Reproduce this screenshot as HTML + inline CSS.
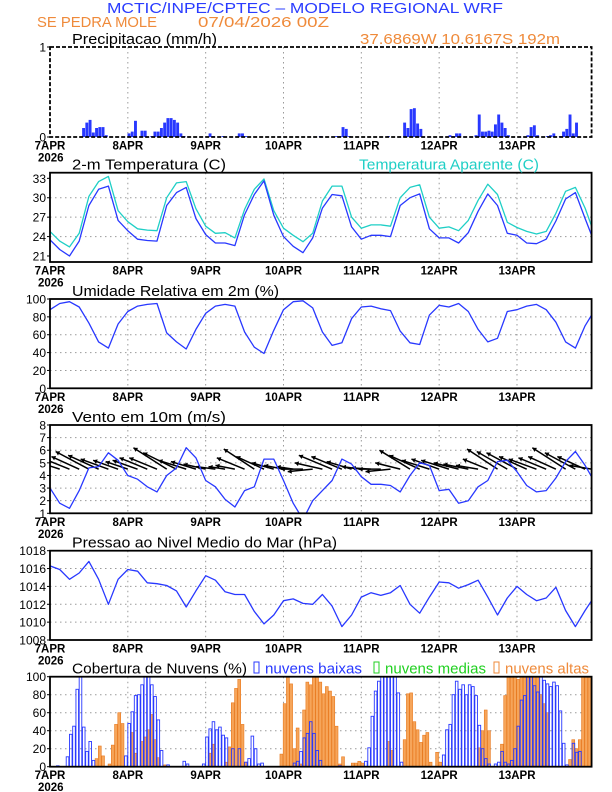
<!DOCTYPE html>
<html><head><meta charset="utf-8"><style>
html,body{margin:0;padding:0;background:#fff}
svg{display:block}
text{font-family:"Liberation Sans",sans-serif}
</style></head><body>
<svg id="chart" width="612" height="792" viewBox="0 0 612 792" xmlns="http://www.w3.org/2000/svg">
<text x="107" y="13" font-size="15" fill="#2a3cff" textLength="396" lengthAdjust="spacingAndGlyphs">MCTIC/INPE/CPTEC – MODELO REGIONAL WRF</text>
<text x="37" y="27" font-size="15" fill="#ef8a3a" textLength="120" lengthAdjust="spacingAndGlyphs">SE PEDRA MOLE</text>
<text x="198" y="27" font-size="15" fill="#ef8a3a" textLength="131" lengthAdjust="spacingAndGlyphs">07/04/2026 00Z</text>
<text x="360" y="44" font-size="15" fill="#ef8a3a" textLength="200" lengthAdjust="spacingAndGlyphs">37.6869W 10.6167S 192m</text>
<g id="layer"></g>
</svg>
<script>
// ---------- data ----------
const dayLabels = ["7APR","8APR","9APR","10APR","11APR","12APR","13APR"];
const hours3 = [0,3,6,9,12,15,18,21,24,27,30,33,36,39,42,45,48,51,54,57,60,63,66,69,72,75,78,81,84,87,90,93,96,99,102,105,108,111,114,117,120,123,126,129,132,135,138,141,144,147,150,153,156,159,162,165,167];
const precipHours = [10,11,12,13,14,15,16,17,24,25,26,28,29,31,32,33,34,35,36,37,38,39,40,41,49,50,53,58,59,60,83,88,89,90,91,92,104,109,110,111,112,113,114,123,124,125,126,131,132,133,134,135,136,137,138,139,140,141,147,148,149,150,153,154,155,157,158,159,160,161,162];
const precipVals = [0.10,0.16,0.19,0.05,0.10,0.11,0.11,0.02,0.04,0.06,0.18,0.07,0.07,0.01,0.06,0.06,0.10,0.16,0.21,0.21,0.19,0.16,0.04,0.01,0.04,0.01,0.01,0.04,0.04,0.01,0.01,0.01,0.01,0.11,0.09,0.01,0.01,0.16,0.10,0.31,0.32,0.15,0.09,0.02,0.01,0.04,0.04,0.02,0.25,0.06,0.06,0.07,0.06,0.14,0.25,0.16,0.10,0.02,0.02,0.11,0.13,0.02,0.01,0.02,0.04,0.01,0.06,0.09,0.25,0.04,0.16];
const temp2m = [23.5,22.0,21.0,23.3,28.8,31.3,31.8,26.5,24.9,23.6,23.4,23.3,28.8,30.8,31.6,26.8,24.3,23.0,23.0,22.6,27.4,30.5,32.6,27.3,24.0,22.5,21.5,23.8,28.4,30.5,30.3,25.5,23.6,24.2,24.2,24.0,28.8,30.0,30.6,25.2,23.8,23.8,23.0,24.6,27.9,30.6,28.8,24.5,24.2,23.0,22.9,23.6,26.4,29.8,30.8,26.8,24.2];
const tempApparent = [24.8,23.3,22.4,24.5,30.2,32.5,33.3,28.0,26.3,25.2,25.0,24.9,30.0,32.3,32.5,28.3,25.6,24.5,24.6,23.8,28.2,31.3,32.9,28.0,25.3,24.2,23.2,24.5,29.5,31.8,31.8,27.0,25.3,25.8,25.8,25.6,30.0,31.6,32.0,27.0,25.3,25.5,24.9,26.5,29.6,32.1,30.5,26.2,25.4,24.8,24.4,24.8,27.6,31.0,31.6,28.4,25.6];
const humidity = [88,95,97,91,73,52,45,72,86,92,94,95,62,52,44,66,84,92,94,92,63,46,39,65,88,97,98,90,63,48,51,78,91,92,89,87,64,51,49,82,93,91,95,86,66,52,56,86,88,92,94,88,74,52,45,70,82];
const windSpeed = [3.0,1.8,1.4,2.8,4.6,4.7,5.8,5.2,4.0,3.7,3.1,2.7,4.0,4.6,6.2,5.4,3.6,3.1,2.1,1.5,2.8,3.1,5.3,5.3,3.6,1.8,0.5,2.0,2.8,3.6,5.3,4.9,3.9,3.3,3.3,3.2,2.7,4.0,5.0,4.8,2.8,2.9,1.8,2.0,3.1,3.6,5.1,5.2,4.3,3.2,2.7,2.8,3.8,5.1,5.9,4.8,3.9];
const windTip = [5.1,5.0,5.3,5.5,5.9,5.6,5.3,5.2,5.1,5.2,5.4,5.4,6.2,5.8,5.2,5.1,4.9,4.7,4.7,4.8,5.4,6.1,5.5,5.0,4.8,4.7,4.5,4.3,5.0,5.6,5.5,5.1,4.7,4.6,4.5,4.3,5.0,6.0,5.6,5.2,5.3,5.2,5.0,4.9,4.8,5.3,6.1,5.9,5.8,5.5,5.3,5.4,5.5,6.2,5.8,5.5,4.8];
const windU = [-0.6,-0.7,-0.9,-1.0,-1.2,-1.1,-1.0,-0.9,-0.8,-0.9,-1.0,-1.0,-1.2,-1.2,-1.0,-0.9,-0.8,-0.7,-0.6,-0.7,-1.0,-1.1,-1.0,-0.8,-0.7,-0.6,-0.8,-0.9,-1.0,-1.2,-1.1,-0.9,-0.7,-0.7,-0.8,-0.9,-0.9,-1.1,-1.1,-1.0,-1.0,-1.0,-0.9,-0.9,-0.8,-0.9,-1.1,-1.1,-1.1,-1.0,-1.0,-1.0,-1.0,-1.2,-1.1,-1.0,-0.8];
const pressure = [1016.3,1015.9,1014.8,1015.5,1016.8,1014.8,1012.0,1014.8,1015.9,1015.7,1014.4,1014.3,1014.1,1013.5,1011.7,1013.5,1015.2,1014.7,1013.4,1013.1,1013.1,1011.2,1009.8,1010.8,1012.4,1012.6,1012.1,1012.0,1013.1,1011.8,1009.5,1010.8,1012.8,1013.3,1013.0,1013.3,1014.1,1012.0,1011.0,1012.8,1014.5,1014.4,1013.8,1014.2,1014.7,1012.8,1010.8,1012.7,1014.0,1013.1,1012.4,1012.7,1013.9,1011.3,1009.5,1011.3,1012.4];
const lowCloudHours = [2,5,6,7,8,9,10,11,12,13,23,24,25,26,27,28,29,30,31,32,33,34,36,41,42,47,48,49,50,51,52,53,54,56,58,60,61,62,63,64,65,75,76,77,78,79,80,81,82,83,89,97,98,99,100,101,102,103,104,105,106,107,108,121,122,123,124,125,126,127,128,129,130,131,132,133,134,135,137,138,139,140,141,142,143,144,145,146,147,148,149,150,151,152,153,154,155,156,157,158,159,161,162,163];
const lowCloudVals = [1,11,36,45,86,100,44,17,28,7,12,48,61,79,80,91,100,100,91,78,52,18,2,6,3,3,33,42,50,41,44,35,32,20,20,5,9,34,20,3,4,4,6,17,32,37,50,37,18,7,1,6,21,56,84,95,100,100,100,100,100,82,5,13,41,47,80,95,86,91,80,91,89,79,46,20,9,3,3,5,17,5,3,7,20,45,74,79,100,100,90,83,100,96,92,89,94,90,62,26,2,26,16,17];
const highCloudHours = [14,15,16,18,19,20,21,22,25,26,28,29,30,31,32,33,35,49,50,54,55,56,57,58,59,60,71,72,73,74,75,76,77,78,79,80,81,82,83,84,85,86,87,88,89,90,93,94,95,96,104,105,109,110,111,112,113,114,115,116,117,119,120,132,133,134,135,139,140,141,142,143,144,145,146,147,148,149,150,151,152,153,160,161,162,163,164,165,166];
const highCloudVals = [9,23,12,3,24,47,60,48,38,15,28,33,41,58,30,10,2,15,25,5,22,71,87,97,47,5,14,70,100,92,20,43,3,63,94,91,100,100,94,81,89,84,78,45,3,11,4,4,6,4,28,18,30,81,82,50,41,27,35,38,5,16,5,21,40,63,40,25,79,100,100,100,97,100,100,100,100,100,100,80,70,60,8,30,20,30,100,100,100];

// ---------- layout ----------
const L = 50, HPX = 3.243;
const X = h => L + h * HPX;
const R = X(167);
const NS = "http://www.w3.org/2000/svg";
const layer = document.getElementById("layer");
function el(tag, attrs, parent) {
  const e = document.createElementNS(NS, tag);
  for (const k in attrs) e.setAttribute(k, attrs[k]);
  (parent || layer).appendChild(e);
  return e;
}
function makeY(top, bot, vmin, vmax) { return v => bot - (v - vmin) / (vmax - vmin) * (bot - top); }

function panel(name, top, bot, ticks, tickFmt, vmin, vmax, title, titleW) {
  const g = el("g", {});
  
  
  const Y = makeY(top, bot, vmin, vmax);
  for (let d = 1; d < dayLabels.length; d++) {
    const gl = el("line", {x1: X(d*24), x2: X(d*24), y1: top, y2: bot, stroke: "#9a9a9a", "stroke-width": 1, "stroke-dasharray": "1.5,3.5"}, g);
    
    
  }
  ticks.forEach((t, i) => {
    const y = Y(t);
    if (i > 0 && i < ticks.length - 1) {
      const gl = el("line", {x1: L, x2: R, y1: y, y2: y, stroke: "#9a9a9a", "stroke-width": 1, "stroke-dasharray": "1.5,3.5"}, g);
      
      
    }
    const tl = el("text", {x: 46, y: y + 4.5, "font-size": 12, "text-anchor": "end", fill: "#000"}, g);
    
    
    tl.textContent = tickFmt(t);
    const tk = el("line", {x1: L - 3, x2: L, y1: y, y2: y, stroke: "#000", "stroke-width": 1}, g);
    
    
  });
  dayLabels.forEach((d, i) => {
    const tl = el("text", {x: X(i*24), y: bot + 12.5, "font-size": 11.5, "text-anchor": "middle", fill: "#000", "font-weight": "bold"}, g);
    
    
    tl.textContent = d;
  });
  const yr = el("text", {x: 38, y: bot + 24.5, "font-size": 11.5, fill: "#000", "font-weight": "bold"}, g);
  
  
  yr.textContent = "2026";
  const tt = el("text", {x: 72, y: top - 3, "font-size": 15, fill: "#000", textLength: titleW, lengthAdjust: "spacingAndGlyphs"}, g);
  
  
  tt.textContent = title;
  const plot = el("g", {}, g);
  
  
  const clip = el("clipPath", {id: "clip-" + name}, g);
  el("rect", {x: L, y: top, width: R - L, height: bot - top}, clip);
  plot.setAttribute("clip-path", "url(#clip-" + name + ")");
  const fr = el("rect", {x: L, y: top, width: R - L, height: bot - top, fill: "none", stroke: "#000", "stroke-width": 1.8}, g);
  
  
  return {g, plot, Y, frame: fr};
}
function line(parent, Y, vals, color, name) {
  const d = vals.map((v, i) => (i ? "L" : "M") + X(hours3[i]).toFixed(1) + "," + Y(v).toFixed(1)).join(" ");
  const p = el("path", {d, fill: "none", stroke: color, "stroke-width": 1.3, "stroke-linejoin": "round"}, parent);
  
  
}

// Panel 1: precipitation
const p1 = panel("precipitation", 47, 137, [0, 1], t => t, 0, 1, "Precipitacao (mm/h)", 145);
p1.frame.setAttribute("stroke-dasharray", "4,2");
precipHours.forEach((h, i) => {
  const y = p1.Y(precipVals[i]);
  const b = el("rect", {x: X(h) - 0.3, y, width: 2.9, height: 137 - y, fill: "#2838ff"}, p1.plot);
  
  
});

// Panel 2: temperature
const p2 = panel("temperature", 172.7, 262, [21, 24, 27, 30, 33], t => t, 20.07, 33.87, "2-m Temperatura (C)", 154);
const at = el("text", {x: 359, y: 169.7, "font-size": 15, fill: "#1fcfc6", textLength: 180, lengthAdjust: "spacingAndGlyphs"}, p2.g);


at.textContent = "Temperatura Aparente (C)";
line(p2.plot, p2.Y, tempApparent, "#1fcfc6", "apparent-temperature-line");
line(p2.plot, p2.Y, temp2m, "#2838ff", "temperature-line");

// Panel 3: humidity
const p3 = panel("humidity", 299, 388.3, [0, 20, 40, 60, 80, 100], t => t, 0, 100, "Umidade Relativa em 2m (%)", 207);
line(p3.plot, p3.Y, humidity, "#2838ff", "humidity-line");

// Panel 4: wind
const p4 = panel("wind", 425, 513.3, [1, 2, 3, 4, 5, 6, 7, 8], t => t, 1, 8, "Vento em 10m (m/s)", 154);
const unitPx = (513.3 - 425) / 7;
windTip.forEach((tp, i) => {
  const x0 = X(hours3[i]), y0 = p4.Y(4.5);
  const x1 = x0 + windU[i] * unitPx * 2.2, y1 = p4.Y(tp);
  const a = el("line", {x1: x0, y1: y0, x2: x1, y2: y1, stroke: "#000", "stroke-width": 1.5}, p4.plot);
  
  
  const dx = x1 - x0, dy = y1 - y0, len = Math.hypot(dx, dy) || 1;
  const ux = dx / len, uy = dy / len, hs = 4;
  const hp = [x1, y1, x1 - ux*hs - uy*hs*0.6, y1 - uy*hs + ux*hs*0.6, x1 - ux*hs + uy*hs*0.6, y1 - uy*hs - ux*hs*0.6];
  const h = el("polygon", {points: hp.map(v => v.toFixed(1)).join(","), fill: "#000"}, p4.plot);
  
  
});
line(p4.plot, p4.Y, windSpeed, "#2838ff", "wind-speed-line");

// Panel 5: pressure
const p5 = panel("pressure", 550.7, 640, [1008, 1010, 1012, 1014, 1016, 1018], t => t, 1008, 1018, "Pressao ao Nivel Medio do Mar (hPa)", 265);
line(p5.plot, p5.Y, pressure, "#2838ff", "pressure-line");

// Panel 6: clouds
const p6 = panel("clouds", 676.7, 766.7, [0, 20, 40, 60, 80, 100], t => t, 0, 100, "Cobertura de Nuvens (%)", 175);
highCloudHours.forEach((h, i) => {
  const y = p6.Y(highCloudVals[i]);
  const b = el("rect", {x: X(h) - 0.3, y, width: 2.9, height: 766.7 - y, fill: "#f6a55a", stroke: "#e8791e", "stroke-width": 0.6}, p6.plot);
  
  
});
lowCloudHours.forEach((h, i) => {
  const y = p6.Y(lowCloudVals[i]);
  const b = el("rect", {x: X(h), y, width: 2.6, height: 766.7 - y, fill: "none", stroke: "#2838ff", "stroke-width": 0.9}, p6.plot);
  
  
});
const legendItems = [["low-cloud-legend", "nuvens baixas", "#2838ff", 254, 265, 97], ["mid-cloud-legend", "nuvens medias", "#20d020", 374, 385, 101], ["high-cloud-legend", "nuvens altas", "#ef8a3a", 494, 505, 84]];
legendItems.forEach(it => {
  const g = el("g", {}, p6.g);
  
  
  el("rect", {x: it[3], y: 662, width: 5, height: 11, fill: "none", stroke: it[2], "stroke-width": 1}, g);
  const t = el("text", {x: it[4], y: 673.7, "font-size": 15, fill: it[2], textLength: it[5], lengthAdjust: "spacingAndGlyphs"}, g);
  t.textContent = it[1];
});
</script>
</body></html>
